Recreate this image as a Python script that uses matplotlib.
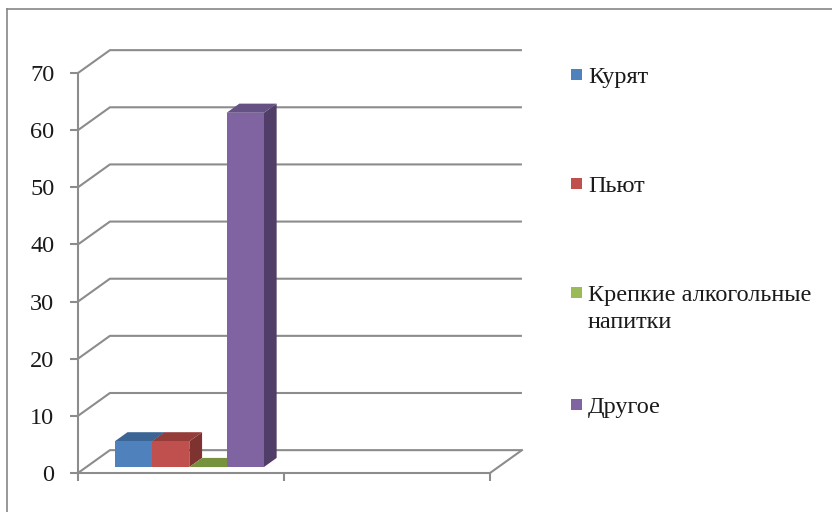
import matplotlib
matplotlib.use("Agg")
import matplotlib.pyplot as plt
from matplotlib.patches import Polygon
from matplotlib.lines import Line2D

# data
series = ["Курят", "Пьют", "Крепкие алкогольные\nнапитки", "Другое"]
values = [4.5, 4.5, 0, 62]
y_ticks = [0, 10, 20, 30, 40, 50, 60, 70]

# colours: front face, top face, side face
front_colors = ["#4F81BD", "#C0504D", "#9BBB59", "#8064A2"]
top_colors = ["#3B6595", "#953C39", "#76923C", "#665184"]
side_colors = ["#2F5078", "#7E3331", "#5F7730", "#503E68"]
grid_color = "#8C8C8C"
text_color = "#1A1A1A"
font = "Liberation Serif"

W, H = 832, 512
fig = plt.figure(figsize=(W / 100, H / 100), dpi=100)

# front plane of the 3d box
ax = fig.add_axes([78 / W, 39 / H, 412 / W, 400 / H])
ax.set_xlim(0, 2)
ax.set_ylim(0, 70)
ax.patch.set_alpha(0)

# oblique depth of the box (x units, value units)
DX, DY = 0.155, 4.0

# back wall gridlines with slanted left side
for v in y_ticks:
    ax.plot([0, DX, 2 + DX], [v, v + DY, v + DY], color=grid_color,
            lw=1.5, clip_on=False, zorder=1, solid_capstyle="butt")
# right edge of the floor
ax.plot([2, 2 + DX], [0, DY], color=grid_color, lw=1.5, clip_on=False, zorder=1)

# bars: one group in the first category
bar_w = 0.181
d0, d1 = 0.26, 0.66
ox, oy = d0 * DX, d0 * DY
bdx, bdy = (d1 - d0) * DX, (d1 - d0) * DY
start = 0.5 - bar_w * len(values) / 2

for i, v in enumerate(values):
    x0 = start + i * bar_w + ox
    x1 = x0 + bar_w
    side = [(x1, oy), (x1 + bdx, oy + bdy), (x1 + bdx, v + oy + bdy), (x1, v + oy)]
    top = [(x0, v + oy), (x1, v + oy), (x1 + bdx, v + oy + bdy), (x0 + bdx, v + oy + bdy)]
    front = [(x0, oy), (x1, oy), (x1, v + oy), (x0, v + oy)]
    z = 3 + i
    ax.add_patch(Polygon(side, closed=True, facecolor=side_colors[i], edgecolor="none",
                         clip_on=False, zorder=z))
    ax.add_patch(Polygon(top, closed=True, facecolor=top_colors[i], edgecolor="none",
                         clip_on=False, zorder=z))
    if v > 0:
        ax.add_patch(Polygon(front, closed=True, facecolor=front_colors[i], edgecolor="none",
                             clip_on=False, zorder=z))

# axes styling
for s in ["top", "right"]:
    ax.spines[s].set_visible(False)
for s in ["left", "bottom"]:
    ax.spines[s].set_color(grid_color)
    ax.spines[s].set_linewidth(1.5)
    ax.spines[s].set_zorder(2)

ax.set_yticks(y_ticks)
ax.set_yticklabels([str(t) for t in y_ticks], fontsize=17.5, family=font, color=text_color)
ax.set_xticks([0, 1, 2])
ax.set_xticklabels([])
ax.tick_params(axis="y", direction="out", length=6, width=1.5, color=grid_color, pad=11)
ax.tick_params(axis="x", direction="out", length=6, width=1.5, color=grid_color)

# legend, laid out by hand like the spreadsheet one
legend_baselines = [83, 192, 301, 413]
line_step = 27
for i, label in enumerate(series):
    yb = legend_baselines[i]
    fig.patches.append(plt.Rectangle((571 / W, 1 - (yb - 3) / H), 11 / W, 11 / H,
                                     transform=fig.transFigure, facecolor=front_colors[i],
                                     edgecolor="none"))
    for j, line in enumerate(label.split("\n")):
        fig.text(588 / W, 1 - (yb + j * line_step) / H, line, fontsize=17.5,
                 family=font, color=text_color, va="baseline", ha="left")

# outer chart border (left and top visible)
fig.add_artist(Line2D([7 / W, 7 / W], [0, 1 - 9 / H], color="#868686", lw=1.2))
fig.add_artist(Line2D([7 / W, 1], [1 - 9 / H, 1 - 9 / H], color="#868686", lw=1.2))

fig.savefig("out.png", dpi=100)
